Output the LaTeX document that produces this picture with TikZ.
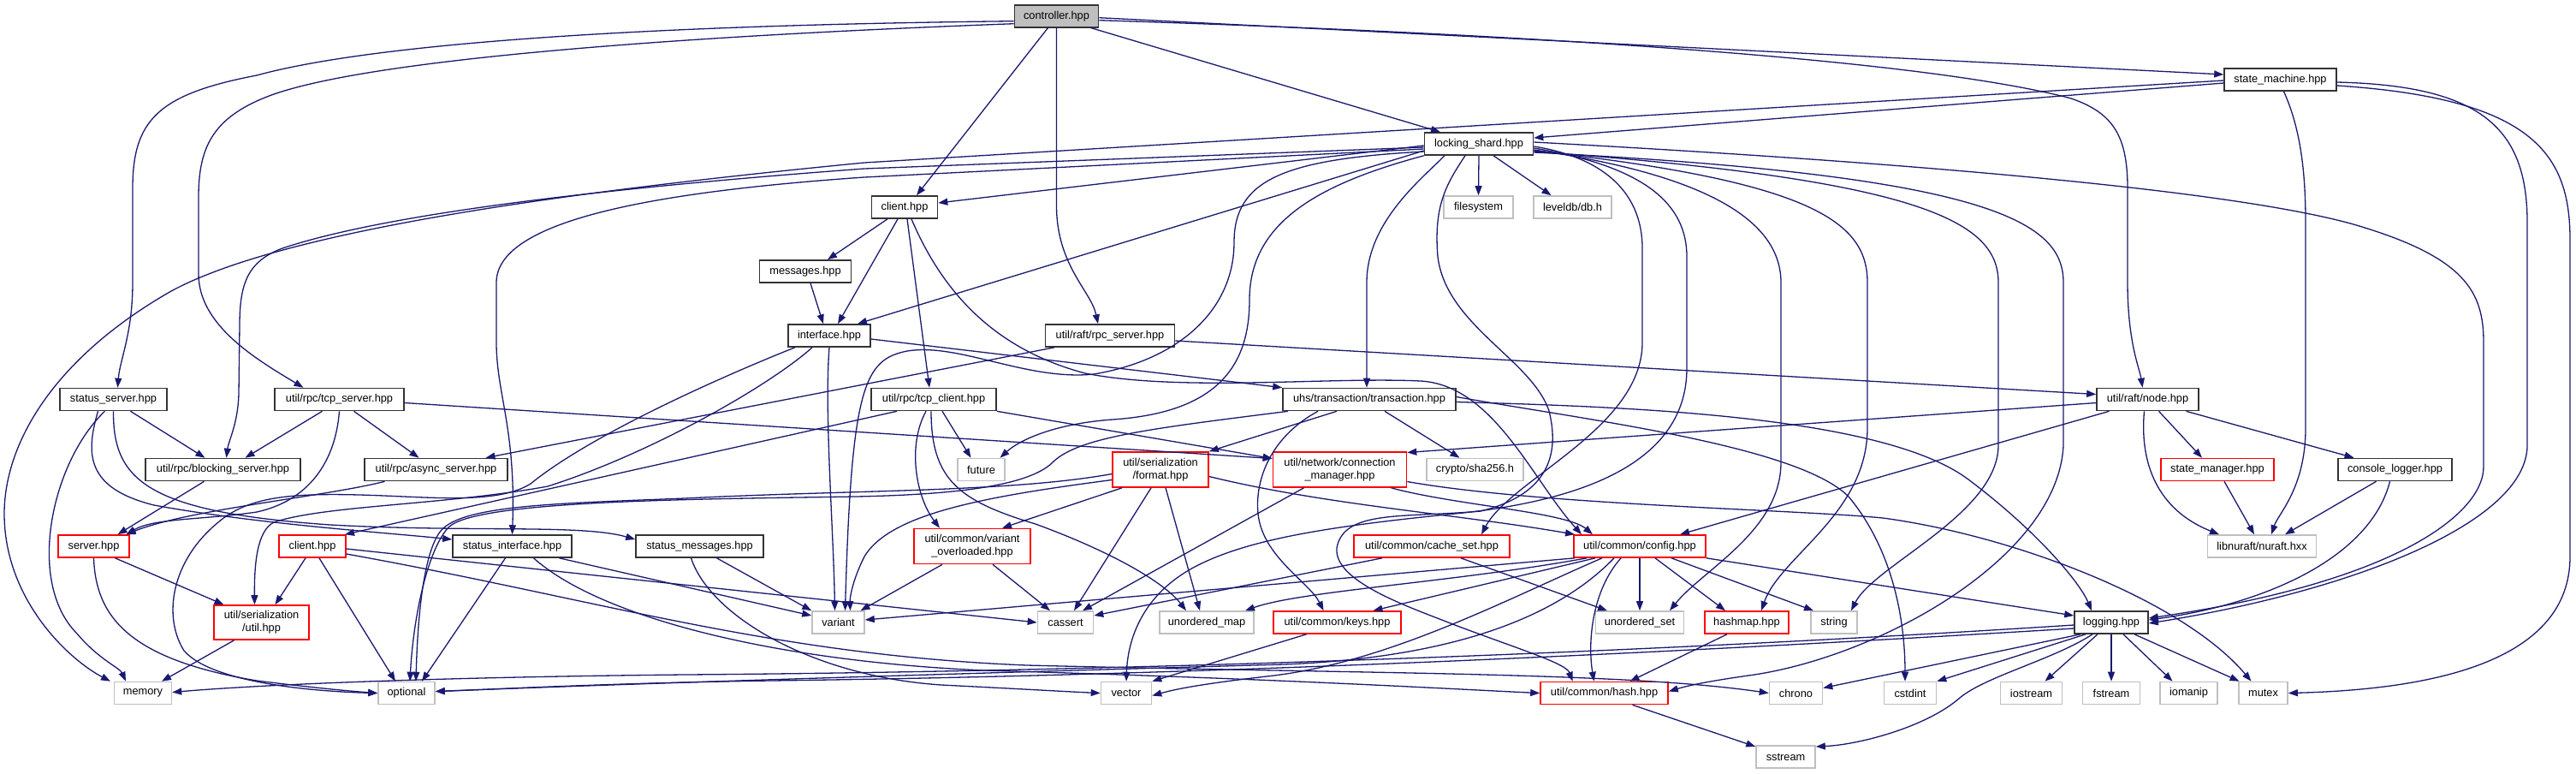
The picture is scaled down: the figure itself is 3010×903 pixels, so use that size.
\documentclass[tikz,border=0pt]{standalone}
\usepackage{fontspec}
\setmainfont{Liberation Sans}
\usetikzlibrary{arrows.meta}
\definecolor{edgeblue}{HTML}{191970}
\definecolor{sysgray}{HTML}{BFBFBF}
\definecolor{boxred}{HTML}{FF0000}
\tikzset{
  hb/.style={draw=black!80, line width=1.6pt, fill=white, minimum height=26pt, inner sep=0pt,
             font=\fontsize{12.8}{15}\selectfont, text=black},
  hr/.style={hb, draw=boxred},
  hs/.style={hb, draw=sysgray},
  two/.style={align=center, minimum height=41pt},
  dep/.style={draw=edgeblue, line width=1.3pt, -{Triangle[length=11pt,width=8pt]}},
}
\begin{document}
\begin{tikzpicture}[x=1pt,y=-1pt]
\fill[white] (0,0) rectangle (3010,903);
\useasboundingbox (0,0) rectangle (3010,903);
% ---------- nodes ----------
\node[hb, fill=sysgray, minimum width=98] (ctrl) at (1234.5,18.7) {controller.hpp};
\node[hb, minimum width=131] (smachine) at (2664.5,93) {state\_machine.hpp};
\node[hb, minimum width=127] (lshard) at (1728,168) {locking\_shard.hpp};
\node[hb, minimum width=77] (clientA) at (1057,242) {client.hpp};
\node[hs, minimum width=81] (fsys) at (1727.5,242) {filesystem};
\node[hs, minimum width=91] (leveldb) at (1837.5,242) {leveldb/db.h};
\node[hb, minimum width=107] (msgs) at (941,317) {messages.hpp};
\node[hb, minimum width=96] (iface) at (969,392) {interface.hpp};
\node[hb, minimum width=151] (rpcsrv) at (1297,392) {util/raft/rpc\_server.hpp};
\node[hb, minimum width=125] (ssrv) at (132.5,466.5) {status\_server.hpp};
\node[hb, minimum width=151] (tsrv) at (396.5,466.5) {util/rpc/tcp\_server.hpp};
\node[hb, minimum width=146] (tcli) at (1091,466.5) {util/rpc/tcp\_client.hpp};
\node[hb, minimum width=202] (trans) at (1600,466.5) {uhs/transaction/transaction.hpp};
\node[hb, minimum width=119] (rnode) at (2509.5,466.5) {util/raft/node.hpp};
\node[hb, minimum width=181] (bsrv) at (260.5,548.5) {util/rpc/blocking\_server.hpp};
\node[hb, minimum width=167] (asrv) at (509.5,548.5) {util/rpc/async\_server.hpp};
\node[hs, minimum width=55] (future) at (1146.5,548.5) {future};
\node[hr, two, minimum width=112] (fmt) at (1356,548.5) {util/serialization\\/format.hpp};
\node[hr, two, minimum width=156] (cmgr) at (1565.5,548.5) {util/network/connection\\\_manager.hpp};
\node[hs, minimum width=113] (sha) at (1723.5,548.5) {crypto/sha256.h};
\node[hr, minimum width=132] (smgr) at (2591,548.5) {state\_manager.hpp};
\node[hb, minimum width=133] (clog) at (2798.5,548.5) {console\_logger.hpp};
\node[hr, minimum width=83] (server) at (109.5,638) {server.hpp};
\node[hr, minimum width=78] (clientB) at (365,638) {client.hpp};
\node[hb, minimum width=139] (sif) at (598.5,638) {status\_interface.hpp};
\node[hb, minimum width=149] (smsg) at (817.5,638) {status\_messages.hpp};
\node[hr, two, minimum width=136] (vov) at (1136,638) {util/common/variant\\\_overloaded.hpp};
\node[hr, minimum width=182] (cset) at (1673,638) {util/common/cache\_set.hpp};
\node[hr, minimum width=154] (config) at (1916,638) {util/common/config.hpp};
\node[hs, minimum width=127] (nuraft) at (2643,638) {libnuraft/nuraft.hxx};
\node[hr, two, minimum width=111, minimum height=40] (sutil) at (305.5,727) {util/serialization\\/util.hpp};
\node[hs, minimum width=61] (variant) at (979.5,727) {variant};
\node[hs, minimum width=65] (cassert) at (1245,727) {cassert};
\node[hs, minimum width=110] (umap) at (1410,727) {unordered\_map};
\node[hr, minimum width=149] (keys) at (1562.5,727) {util/common/keys.hpp};
\node[hs, minimum width=103] (uset) at (1916,727) {unordered\_set};
\node[hr, minimum width=98] (hashmap) at (2041,727) {hashmap.hpp};
\node[hs, minimum width=54] (string) at (2143,727) {string};
\node[hb, minimum width=86] (logging) at (2467,727) {logging.hpp};
\node[hs, minimum width=67] (memory) at (167,809.5) {memory};
\node[hs, minimum width=66] (optional) at (475,809.5) {optional};
\node[hs, minimum width=59] (vector) at (1316,809.5) {vector};
\node[hr, minimum width=149] (hash) at (1874.5,809.5) {util/common/hash.hpp};
\node[hs, minimum width=62] (chrono) at (2098.5,809.5) {chrono};
\node[hs, minimum width=61] (cstdint) at (2232,809.5) {cstdint};
\node[hs, minimum width=72] (iostream) at (2373.5,809.5) {iostream};
\node[hs, minimum width=67] (fstream) at (2467,809.5) {fstream};
\node[hs, minimum width=67] (iomanip) at (2557.5,809.5) {iomanip};
\node[hs, minimum width=57] (mutex) at (2644.5,809.5) {mutex};
\node[hs, minimum width=69] (sstream) at (2086.5,884) {sstream};
% ---------- controller ----------
\draw[dep] ([yshift=-6]ctrl.west) .. controls (700,30) and (420,55) .. (300,88) .. controls (185,110) and (155,140) .. (155,220) -- (155,330) .. controls (155,390) and (140,420) .. ([xshift=5]ssrv.north);
\draw[dep] ([yshift=-9]ctrl.west) .. controls (850,40) and (450,65) .. (320,110) .. controls (250,135) and (232,170) .. (232,230) -- (232,320) .. controls (232,380) and (300,420) .. ([xshift=-42]tsrv.north);
\draw[dep] ([xshift=-10]ctrl.south) -- ([xshift=14]clientA.north);
\draw[dep] (ctrl.south) -- (1234.5,240) .. controls (1234.5,310) and (1275,340) .. ([xshift=-14]rpcsrv.north);
\draw[dep] ([xshift=40]ctrl.south) -- ([xshift=-45]lshard.north);
\draw[dep] ([yshift=-2]ctrl.east) -- ([yshift=6]smachine.west);
\draw[dep] ([yshift=-5]ctrl.east) .. controls (1800,40) and (2250,70) .. (2420,115) .. controls (2470,132) and (2486,160) .. (2486,220) -- (2486,330) .. controls (2486,400) and (2500,430) .. ([xshift=-6]rnode.north);
% ---------- state machine ----------
\draw[dep] ([yshift=-4]smachine.west) -- ([yshift=7]lshard.east);
\draw[dep] ([yshift=-1]smachine.west) -- (1010,190) .. controls (650,225) and (330,270) .. (200,340) .. controls (60,420) and (5,520) .. (5,600) .. controls (5,700) and (80,770) .. ([xshift=-38]memory.north);
\draw[dep] ([xshift=4]smachine.south) .. controls (2688,150) and (2694,200) .. (2694,260) -- (2694,500) .. controls (2694,570) and (2662,600) .. ([xshift=11]nuraft.north);
\draw[dep] ([yshift=-3]smachine.east) .. controls (2900,100) and (2953,150) .. (2953,260) -- (2953,520) .. controls (2953,610) and (2750,690) .. ([yshift=-1]logging.east);
\draw[dep] ([yshift=-7]smachine.east) .. controls (2960,115) and (3003,180) .. (3003,280) -- (3003,650) .. controls (3003,770) and (2850,805) .. (mutex.east);
% ---------- locking shard ----------
\draw[dep] ([yshift=-2]lshard.west) -- ([yshift=5]clientA.east);
\draw[dep] ([yshift=-8]lshard.west) -- ([xshift=33]iface.north);
\draw[dep] (lshard.south) -- (fsys.north);
\draw[dep] ([xshift=17]lshard.south) -- ([xshift=-25]leveldb.north);
\draw[dep] ([yshift=-4]lshard.west) -- (1010,197) .. controls (700,220) and (450,250) .. (330,290) .. controls (290,305) and (280,330) .. (280,380) -- (279,460) .. controls (278,495) and (267,515) .. ([xshift=4]bsrv.north);
\draw[dep] ([yshift=-6]lshard.west) -- (1010,207) .. controls (750,225) and (580,260) .. (580,330) -- (580,400) .. controls (580,460) and (603,500) .. (sif.north);
\draw[dep] ([xshift=-40]lshard.south) .. controls (1660,210) and (1597,260) .. (1597,330) -- ([xshift=-3]trans.north);
\draw[dep] ([yshift=-9]lshard.west) .. controls (1500,186) and (1442,210) .. (1442,283) .. controls (1442,360) and (1380,420) .. (1278,437) .. controls (1200,445) and (1120,400) .. (1060,410) .. controls (1010,420) and (995,450) .. ([xshift=8]variant.north);
\draw[dep] (lshard.south west) .. controls (1540,215) and (1460,260) .. (1460,350) .. controls (1460,430) and (1420,482) .. (1300,490) .. controls (1230,495) and (1190,515) .. ([xshift=22]future.north);
\draw[dep] ([xshift=-16]lshard.south) .. controls (1690,215) and (1675,240) .. (1680,300) .. controls (1690,380) and (1790,420) .. (1810,480) .. controls (1825,540) and (1800,580) .. (1730,597) .. controls (1640,605) and (1570,595) .. (1562,640) .. controls (1558,680) and (1650,710) .. (1700,730) .. controls (1780,760) and (1830,775) .. ([xshift=-37]hash.north);
\draw[dep] ([yshift=-3]lshard.east) .. controls (1880,185) and (1919,230) .. (1919,290) -- (1919,400) .. controls (1919,500) and (1765,560) .. ([xshift=58]cset.north);
\draw[dep] ([yshift=-5]lshard.east) .. controls (1925,195) and (1971,240) .. (1971,300) -- (1971,430) .. controls (1971,540) and (1850,585) .. (1700,600) .. controls (1550,615) and (1460,630) .. (1400,660) .. controls (1340,690) and (1318,740) .. (vector.north);
\draw[dep] ([yshift=-7]lshard.east) .. controls (2000,205) and (2081,260) .. (2081,330) -- (2081,540) .. controls (2081,620) and (1990,665) .. ([xshift=35]uset.north);
\draw[dep] ([yshift=-8]lshard.east) .. controls (2120,212) and (2182,260) .. (2182,330) -- (2182,500) .. controls (2182,600) and (2080,650) .. ([xshift=17]hashmap.north);
\draw[dep] ([yshift=-9]lshard.east) .. controls (2250,210) and (2335,260) .. (2335,330) -- (2335,520) .. controls (2335,600) and (2190,660) .. ([xshift=20]string.north);
\draw[dep] ([yshift=-10]lshard.east) .. controls (2330,205) and (2411,260) .. (2411,330) -- (2411,520) .. controls (2405,650) and (2200,765) .. (2050,788) .. controls (2000,795) and (1975,800) .. ([yshift=2]hash.east);
\draw[dep] ([yshift=2]lshard.east) .. controls (2200,188) and (2600,220) .. (2750,262) .. controls (2880,300) and (2902,340) .. (2902,400) -- (2902,545) .. controls (2902,600) and (2800,680) .. ([yshift=5]logging.east);
% ---------- client (locking shard) ----------
\draw[dep] ([xshift=-20]clientA.south) -- ([xshift=26]msgs.north);
\draw[dep] ([xshift=-8]clientA.south) -- ([xshift=10]iface.north);
\draw[dep] ([xshift=3]clientA.south) -- ([xshift=-5]tcli.north);
\draw[dep] ([xshift=8]clientA.south) .. controls (1105,350) and (1170,410) .. (1268,436) .. controls (1380,458) and (1550,440) .. (1660,445) .. controls (1745,450) and (1790,560) .. ([xshift=-68]config.north);
\draw[dep] ([xshift=6]msgs.south) -- ([xshift=-7]iface.north);
% ---------- interface ----------
\draw[dep] (iface.south) .. controls (963,480) and (974,620) .. ([xshift=-4]variant.north);
\draw[dep] ([yshift=-4]iface.east) -- (trans.north west);
\draw[dep] ([xshift=-40]iface.south) .. controls (880,425) and (700,500) .. (620,565) .. controls (580,590) and (500,580) .. (420,578) .. controls (340,576) and (290,580) .. (255,610) .. controls (200,655) and (190,720) .. (215,760) .. controls (250,800) and (380,808) .. (optional.west);
\draw[dep] ([xshift=-20]iface.south) .. controls (900,450) and (760,530) .. (640,568) .. controls (520,590) and (380,590) .. (320,610) .. controls (300,620) and (297,660) .. ([xshift=-8]sutil.north);
% ---------- rpc server ----------
\draw[dep] ([yshift=-6]rpcsrv.east) -- ([yshift=6]rnode.west);
\draw[dep] ([xshift=-65]rpcsrv.south) -- ([xshift=58]asrv.north);
% ---------- status server ----------
\draw[dep] ([xshift=20]ssrv.south) -- ([xshift=-21]bsrv.north);
\draw[dep] ([xshift=-10]ssrv.south) .. controls (60,540) and (30,680) .. (90,740) .. controls (115,770) and (140,780) .. ([xshift=-20]memory.north);
\draw[dep] ([xshift=-18]ssrv.south) .. controls (100,530) and (100,570) .. (180,590) .. controls (300,612) and (450,622) .. ([yshift=8]sif.west);
\draw[dep] (ssrv.south) .. controls (132,560) and (170,598) .. (386,613) .. controls (550,622) and (680,612) .. ([yshift=8]smsg.west);
% ---------- tcp server ----------
\draw[dep] ([xshift=-20]tsrv.south) -- ([xshift=26]bsrv.north);
\draw[dep] ([xshift=17]tsrv.south) -- ([xshift=-20]asrv.north);
\draw[dep] (tsrv.south) .. controls (392,540) and (360,585) .. (300,598) .. controls (240,607) and (180,605) .. ([xshift=38]server.north);
\draw[dep] ([yshift=-4]tsrv.east) -- ([yshift=13]cmgr.west);
\draw[dep] ([xshift=-22]bsrv.south) -- ([xshift=28]server.north);
\draw[dep] ([xshift=-60]asrv.south) .. controls (380,580) and (220,595) .. ([xshift=38]server.north);
% ---------- tcp client ----------
\draw[dep] ([xshift=10]tcli.south) -- ([xshift=-12]future.north);
\draw[dep] ([xshift=-43]tcli.south) -- ([xshift=38]clientB.north);
\draw[dep] ([xshift=-9]tcli.south) .. controls (1060,520) and (1070,580) .. ([xshift=-38]vov.north);
\draw[dep] ([xshift=-3]tcli.south) .. controls (1088,560) and (1120,585) .. (1210,612) .. controls (1300,645) and (1360,680) .. ([xshift=-24]umap.north);
\draw[dep] (tcli.south east) -- ([yshift=13]cmgr.west);
% ---------- transaction ----------
\draw[dep] ([xshift=-38]trans.south) -- (fmt.north east);
\draw[dep] ([xshift=18]trans.south) -- ([xshift=-18]sha.north);
\draw[dep] ([xshift=-60]trans.south) .. controls (1485,510) and (1466,560) .. (1470,600) .. controls (1475,650) and (1530,680) .. ([xshift=-16]keys.north);
\draw[dep] ([xshift=-95]trans.south) .. controls (1350,500) and (1260,510) .. (1230,540) .. controls (1200,570) and (1100,578) .. (1000,580) .. controls (800,583) and (560,585) .. (525,615) .. controls (500,640) and (483,720) .. ([xshift=4]optional.north);
\draw[dep] ([yshift=3]trans.east) .. controls (1850,490) and (2100,520) .. (2160,580) .. controls (2210,640) and (2226,720) .. ([xshift=-6]cstdint.north);
\draw[dep] ([yshift=-3]trans.east) .. controls (1900,475) and (2200,485) .. (2300,560) .. controls (2380,620) and (2430,680) .. ([xshift=-23]logging.north);
% ---------- format ----------
\draw[dep] ([xshift=-45]fmt.south) -- ([xshift=35]vov.north);
\draw[dep] ([xshift=-11]fmt.south) -- ([xshift=10]cassert.north);
\draw[dep] ([xshift=6]fmt.south) -- ([xshift=-8]umap.north);
\draw[dep] ([yshift=-12]fmt.west) .. controls (1150,580) and (1040,600) .. (1010,650) .. controls (995,680) and (993,700) .. ([xshift=14]variant.north);
\draw[dep] ([yshift=-5]fmt.west) .. controls (1180,575) and (1000,572) .. (800,582) .. controls (650,588) and (540,590) .. (515,620) .. controls (495,645) and (488,720) .. ([xshift=11]optional.north);
\draw[dep] ([yshift=-8]fmt.east) .. controls (1550,590) and (1700,600) .. ([xshift=-76]config.north);
% ---------- connection manager ----------
\draw[dep] ([xshift=-42]cmgr.south) -- ([xshift=20]cassert.north);
\draw[dep] ([xshift=60]cmgr.south) .. controls (1700,590) and (1830,598) .. ([xshift=-55]config.north);
\draw[dep] ([yshift=-14]cmgr.east) .. controls (1800,590) and (2100,595) .. (2200,605) .. controls (2350,625) and (2550,700) .. ([xshift=-14]mutex.north);
% ---------- variant_overloaded, cache_set ----------
\draw[dep] ([xshift=-35]vov.south) -- ([xshift=26]variant.north);
\draw[dep] ([xshift=24]vov.south) -- ([xshift=-18]cassert.north);
\draw[dep] ([xshift=-58]cset.south) -- ([yshift=8]cassert.east);
\draw[dep] ([xshift=34]cset.south) -- ([xshift=-38]uset.north);
% ---------- config ----------
\draw[dep] ([xshift=-76]config.south) -- ([yshift=3]variant.east);
\draw[dep] ([xshift=-62]config.south) .. controls (1700,680) and (1520,690) .. ([xshift=45]umap.north);
\draw[dep] ([xshift=-52]config.south) -- ([xshift=42]keys.north);
\draw[dep] ([xshift=-44]config.south) .. controls (1760,700) and (1620,775) .. (1480,790) .. controls (1420,797) and (1380,803) .. ([yshift=-3]vector.east);
\draw[dep] ([xshift=-30]config.south) .. controls (1820,720) and (1700,768) .. (1500,776) .. controls (1000,790) and (700,800) .. ([yshift=2]optional.east);
\draw[dep] ([xshift=-22]config.south) .. controls (1860,690) and (1855,750) .. ([xshift=-12]hash.north);
\draw[dep] (config.south) -- (uset.north);
\draw[dep] ([xshift=18]config.south) -- ([xshift=-25]hashmap.north);
\draw[dep] ([xshift=37]config.south) -- ([xshift=-24]string.north);
\draw[dep] (config.south east) -- ([yshift=8]logging.west);
% ---------- keys, hashmap, hash ----------
\draw[dep] ([xshift=-36]keys.south) -- (vector.north east);
\draw[dep] ([xshift=-23]hashmap.south) -- ([xshift=30]hash.north);
\draw[dep] ([xshift=33]hash.south) -- ([yshift=12]sstream.west);
% ---------- logging ----------
\draw[dep] ([xshift=-36]logging.south) -- ([yshift=6]chrono.east);
\draw[dep] ([xshift=-30]logging.south) -- (cstdint.north east);
\draw[dep] ([xshift=-22]logging.south) .. controls (2400,770) and (2320,790) .. (2290,815) .. controls (2250,850) and (2170,870) .. ([yshift=12]sstream.east);
\draw[dep] ([xshift=-16]logging.south) -- ([xshift=16]iostream.north);
\draw[dep] (logging.south) -- (fstream.north);
\draw[dep] ([xshift=14]logging.south) -- ([xshift=-19]iomanip.north);
\draw[dep] ([xshift=27]logging.south) -- ([xshift=-28]mutex.north);
\draw[dep] ([yshift=-3]logging.west) .. controls (1800,770) and (1200,785) .. (800,788) .. controls (500,791) and (300,800) .. ([yshift=1]memory.east);
\draw[dep] ([yshift=-7]logging.west) .. controls (1800,772) and (1300,790) .. (900,795) .. controls (700,798) and (560,806) .. ([yshift=2]optional.east);
% ---------- raft node ----------
\draw[dep] ([yshift=-4]rnode.west) -- ([yshift=20]cmgr.east);
\draw[dep] ([xshift=-45]rnode.south) -- ([xshift=47]config.north);
\draw[dep] ([xshift=13]rnode.south) -- ([xshift=-18]smgr.north);
\draw[dep] ([xshift=45]rnode.south) -- ([xshift=-48]clog.north);
\draw[dep] ([xshift=-4]rnode.south) .. controls (2500,540) and (2520,595) .. ([xshift=-50]nuraft.north);
\draw[dep] ([xshift=8]smgr.south) -- ([xshift=-9]nuraft.north);
\draw[dep] ([xshift=-22]clog.south) -- ([xshift=27]nuraft.north);
\draw[dep] ([xshift=-6]clog.south) .. controls (2770,650) and (2650,705) .. ([yshift=3]logging.east);
% ---------- left group ----------
\draw[dep] ([xshift=-32]sutil.south) -- ([xshift=22]memory.north);
\draw[dep] ([xshift=25]server.south) -- ([xshift=-44]sutil.north);
\draw[dep] (server.south) .. controls (112,720) and (150,770) .. (300,795) .. controls (380,805) and (420,808) .. (optional.west);
\draw[dep] ([xshift=-8]clientB.south) -- ([xshift=16]sutil.north);
\draw[dep] ([xshift=8]clientB.south) -- ([xshift=-13]optional.north);
\draw[dep] ([yshift=-3]clientB.east) -- (cassert.west);
\draw[dep] ([yshift=-9]clientB.east) .. controls (700,700) and (900,765) .. (1200,777) .. controls (1600,787) and (1900,785) .. (chrono.west);
\draw[dep] ([xshift=55]sif.south) -- ([yshift=8]variant.west);
\draw[dep] ([xshift=-8]sif.south) -- ([xshift=18]optional.north);
\draw[dep] ([xshift=25]sif.south) .. controls (700,720) and (900,772) .. (1150,783) .. controls (1500,793) and (1700,805) .. (hash.west);
\draw[dep] ([xshift=20]smsg.south) -- (variant.north west);
\draw[dep] ([xshift=-10]smsg.south) .. controls (830,720) and (950,790) .. (1100,800) .. controls (1200,805) and (1250,808) .. (vector.west);
\end{tikzpicture}
\end{document}
